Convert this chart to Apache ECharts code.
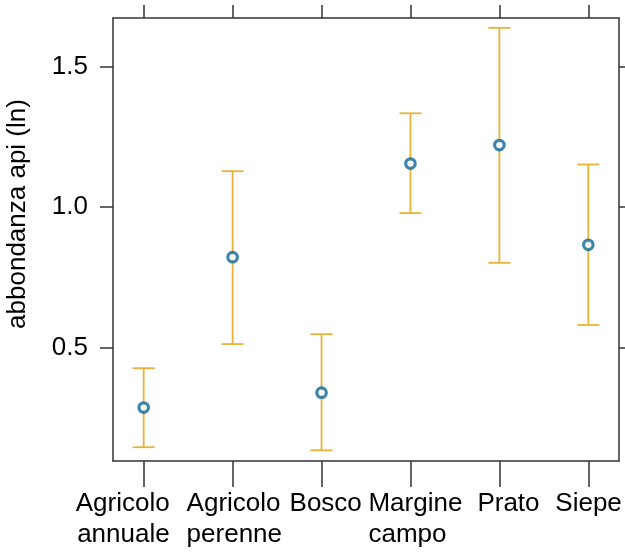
<!DOCTYPE html>
<html>
<head>
<meta charset="utf-8">
<script src="https://cdn.jsdelivr.net/npm/echarts@6/dist/echarts.min.js"></script>
<style>
  html, body { margin: 0; padding: 0; background: #fff; }
  #chart { width: 625px; height: 553px; }
</style>
</head>
<body>
<div id="chart"></div>
<script>
// categorie (habitat) e valori
var categories = ['Agricolo\nannuale', 'Agricolo\nperenne', 'Bosco', 'Margine\ncampo', 'Prato', 'Siepe'];
var means = [0.287, 0.822, 0.340, 1.155, 1.221, 0.866];
var lower = [0.146, 0.513, 0.135, 0.979, 0.802, 0.581];
var upper = [0.427, 1.128, 0.548, 1.334, 1.638, 1.152];
var yTicks = [0.5, 1.0, 1.5];

var xPos = categories.map(function (c, i) { return i + 1; });
// come sono ancorate le etichette sotto ai tick (stile dell'originale)
var labelAlign = ['right', 'left', 'left', 'left', 'left', 'left'];
var labelBox = [52, 92, 64, 84, 44, 66];

var orange = '#E8B23A';
var blue = '#0B6699';
var axisCol = '#333';
var font = 'Liberation Sans, Arial, sans-serif';

var chart = echarts.init(document.getElementById('chart'));

var rich = {};
categories.forEach(function (c, i) {
    rich['l' + i] = {
        fontSize: 26, fontFamily: font, color: '#000', lineHeight: 31,
        width: labelBox[i], align: labelAlign[i]
    };
});

function xAxisDef(pos, withLabels) {
    return {
        type: 'value',
        position: pos,
        min: 0.655,
        max: 6.345,
        splitLine: { show: false },
        axisLine: { show: true, onZero: false, lineStyle: { color: axisCol, width: 1.5 } },
        axisTick: { show: true, inside: false, length: 13, customValues: xPos.slice(), lineStyle: { color: axisCol, width: 1.5 } },
        axisLabel: withLabels ? {
            show: true,
            margin: 27,
            hideOverlap: false,
            customValues: xPos.slice(),
            formatter: function (v) {
                var i = Math.min(categories.length - 1, Math.max(0, Math.round(v) - 1));
                return categories[i].split('\n').map(function (s) {
                    return '{l' + i + '|' + s + '}';
                }).join('\n');
            },
            rich: rich
        } : { show: false }
    };
}

function yAxisDef(pos, withLabels) {
    return {
        type: 'value',
        position: pos,
        min: 0.097,
        max: 1.673,
        splitLine: { show: false },
        axisLine: { show: true, onZero: false, lineStyle: { color: axisCol, width: 1.5 } },
        axisTick: { show: true, inside: false, length: 13, customValues: yTicks.slice(), lineStyle: { color: axisCol, width: 1.5 } },
        axisLabel: withLabels ? {
            show: true,
            margin: 25,
            customValues: yTicks.slice(),
            fontSize: 26,
            fontFamily: font,
            color: '#000',
            formatter: function (v) { return v.toFixed(1); }
        } : { show: false }
    };
}

// striscia sotto al pannello: porta i tick dell'asse x inferiore
var tickStrip = xAxisDef('top', false);
tickStrip.gridIndex = 1;
tickStrip.axisLine = { show: false };
tickStrip.axisTick.inside = true;

var option = {
    animation: false,
    backgroundColor: '#fff',
    grid: [
        { left: 113, top: 18, right: 6, bottom: 92 },
        { left: 113, top: 461, right: 6, height: 13 }
    ],
    xAxis: [xAxisDef('top', false), xAxisDef('bottom', true), tickStrip],
    yAxis: [
        yAxisDef('left', true),
        yAxisDef('right', false),
        { type: 'value', gridIndex: 1, show: false, min: 0, max: 1 }
    ],
    graphic: [{
        type: 'text',
        x: 18,
        y: 214,
        rotation: Math.PI / 2,
        style: {
            text: 'abbondanza api (ln)',
            fontSize: 26,
            fontFamily: font,
            fill: '#000',
            align: 'center',
            verticalAlign: 'middle'
        }
    }],
    series: [
        {
            type: 'custom',
            name: 'intervallo',
            xAxisIndex: 1,
            yAxisIndex: 0,
            data: xPos.map(function (x, i) { return [x, lower[i], upper[i]]; }),
            renderItem: function (params, api) {
                var lo = api.coord([api.value(0), api.value(1)]);
                var hi = api.coord([api.value(0), api.value(2)]);
                var half = 11;
                var st = { stroke: orange, lineWidth: 1.8, fill: null };
                return {
                    type: 'group',
                    children: [
                        { type: 'line', shape: { x1: hi[0], y1: hi[1], x2: lo[0], y2: lo[1] }, style: st },
                        { type: 'line', shape: { x1: hi[0] - half, y1: hi[1], x2: hi[0] + half, y2: hi[1] }, style: st },
                        { type: 'line', shape: { x1: lo[0] - half, y1: lo[1], x2: lo[0] + half, y2: lo[1] }, style: st }
                    ]
                };
            },
            z: 2
        },
        {
            type: 'scatter',
            name: 'media',
            xAxisIndex: 1,
            yAxisIndex: 0,
            symbol: 'circle',
            symbolSize: 9.5,
            itemStyle: { color: '#fff', borderColor: blue, borderWidth: 3.2 },
            data: xPos.map(function (x, i) { return [x, means[i]]; }),
            z: 3
        }
    ]
};
chart.setOption(option);
</script>
</body>
</html>
